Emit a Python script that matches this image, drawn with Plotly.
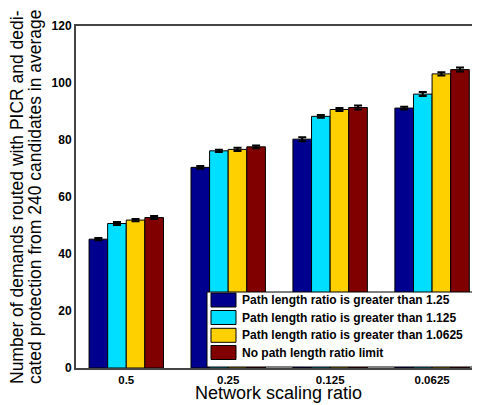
import plotly.graph_objects as go

categories = ["0.5", "0.25", "0.125", "0.0625"]
series_names = [
    "Path length ratio is greater than 1.25",
    "Path length ratio is greater than 1.125",
    "Path length ratio is greater than 1.0625",
    "No path length ratio limit",
]
series_values = [
    [45.2, 70.4, 80.3, 91.2],
    [50.7, 76.2, 88.3, 96.1],
    [51.9, 76.7, 90.7, 103.2],
    [52.8, 77.6, 91.4, 104.7],
]
series_errors = [
    [0.4, 0.5, 0.7, 0.5],
    [0.5, 0.4, 0.5, 0.7],
    [0.4, 0.6, 0.5, 0.6],
    [0.5, 0.5, 0.7, 0.7],
]
colors = ["#00008F", "#00DFFF", "#FFD000", "#800000"]
y_ticks = [0, 20, 40, 60, 80, 100, 120]
x_title = "Network scaling ratio"
y_title_lines = ["Number of demands routed with PICR and dedi-",
                 "cated protection from 240 candidates in average"]

FONT = "Liberation Sans, Arial, sans-serif"

fig = go.Figure()
for name, vals, errs, col in zip(series_names, series_values, series_errors, colors):
    fig.add_trace(go.Bar(
        x=list(range(len(categories))), y=vals, name=name,
        marker=dict(color=col, line=dict(color="black", width=1)),
        error_y=dict(type="data", array=errs, color="black", thickness=2, width=4),
        showlegend=False,
    ))

# the page body adds an 8px offset; figure is sized to end at the window edge
OFF = 8
W, H = 480 - OFF, 405 - OFF
ml, mr, mt, mb = 76 - OFF, 0, 26 - OFF, 405 - 368
pw, ph = W - ml - mr, H - mt - mb

def px(x):
    return (x - OFF - ml) / pw

def py(y):
    return (H - mb - (y - OFF)) / ph

shapes = []
annotations = []
# custom legend box
shapes.append(dict(type="rect", xref="paper", yref="paper",
                   x0=px(207), x1=px(479), y0=py(367), y1=py(292),
                   line=dict(color="black", width=1), fillcolor="white", layer="above"))
row_centers = [300, 317.5, 335.3, 352.5]
for name, col, yc in zip(series_names, colors, row_centers):
    shapes.append(dict(type="rect", xref="paper", yref="paper",
                       x0=px(211), x1=px(236), y0=py(yc + 7), y1=py(yc - 7),
                       line=dict(color="black", width=1), fillcolor=col, layer="above"))
    annotations.append(dict(xref="paper", yref="paper", x=px(240), y=py(yc),
                            xanchor="left", yanchor="middle", showarrow=False,
                            text="<b>" + name + "</b>",
                            font=dict(family=FONT, size=12, color="black")))

# axis titles
annotations.append(dict(xref="paper", yref="paper", x=px(278), y=py(393),
                        xanchor="center", yanchor="middle", showarrow=False,
                        text=x_title, font=dict(family=FONT, size=18, color="black")))
for line, xc in zip(y_title_lines, [17, 35]):
    annotations.append(dict(xref="paper", yref="paper", x=px(xc), y=py(197),
                            xanchor="center", yanchor="middle", showarrow=False,
                            textangle=-90, text=line,
                            font=dict(family=FONT, size=17.5, color="black")))

fig.update_layout(
    width=W, height=H,
    margin=dict(l=ml, r=mr, t=mt, b=mb, autoexpand=False),
    paper_bgcolor="white", plot_bgcolor="white",
    barmode="group", bargap=0.27, bargroupgap=0,
    shapes=shapes, annotations=annotations,
    font=dict(family=FONT, color="black"),
    xaxis=dict(
        range=[-0.493, 3.47], automargin=False,
        tickmode="array", tickvals=list(range(len(categories))),
        ticktext=["<b>" + c + "</b>" for c in categories],
        tickfont=dict(size=11.5, family=FONT, color="black"),
        showline=True, linecolor="#444", linewidth=2, mirror=True,
        showgrid=False, zeroline=False, ticks="", ticklabelstandoff=0,
    ),
    yaxis=dict(
        range=[0, 120], automargin=False,
        tickmode="array", tickvals=y_ticks,
        ticktext=["<b>%d</b>" % t for t in y_ticks],
        tickfont=dict(size=12, family=FONT, color="black"),
        showline=True, linecolor="#444", linewidth=2,
        showgrid=False, zeroline=False, ticks="",
    ),
)

fig.write_html("out.html")
